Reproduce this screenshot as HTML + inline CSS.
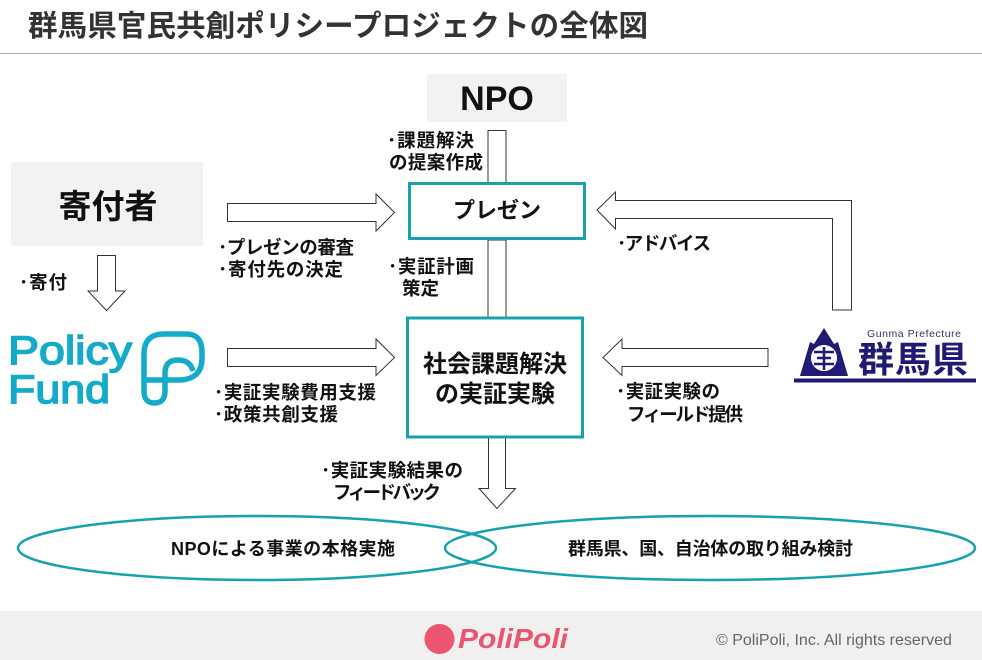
<!DOCTYPE html>
<html lang="ja"><head><meta charset="utf-8"><style>
html,body{margin:0;padding:0;background:#fff}
svg{display:block}
text{font-family:"Liberation Sans","Noto Sans CJK JP",sans-serif;font-weight:700;fill:#111}
</style></head><body>
<svg width="982" height="660" viewBox="0 0 982 660" xmlns="http://www.w3.org/2000/svg">
<text x="28" y="36" font-size="29.500" textLength="620" style="fill:#333">群馬県官民共創ポリシープロジェクトの全体図</text>
<rect x="0" y="53" width="982" height="1" fill="#aaa"/>
<rect x="427" y="74" width="140" height="48" fill="#f2f2f2"/>
<text x="497" y="110" font-size="34" text-anchor="middle">NPO</text>
<rect x="11" y="162" width="192" height="84" fill="#f2f2f2"/>
<text x="108" y="218" font-size="33" text-anchor="middle">寄付者</text>
<g fill="#fff" stroke="#333" stroke-width="1">
<rect x="488" y="130.500" width="18" height="53"/>
<rect x="488" y="240" width="18" height="78"/>
<path d="M227.500 203.500H376V194L394.500 212.500L376 231V221.500H227.500Z"/>
<path d="M227.500 348.500H376V339L394.500 357.500L376 375.500V366.500H227.500Z"/>
<path d="M97.500 255.500H115.500V291H125L106.500 310.500L88 291H97.500Z"/>
<path d="M488.500 438V488.500H479L497 508.500L515.500 488.500H505.500V438Z"/>
<path d="M597 210L615.500 192V200.500H851.500V310H832.500V218.500H615.500V229Z"/>
<path d="M603 357.500L622 339V348.500H768V366.500H622V375.500Z"/>
</g>
<rect x="409.500" y="183.500" width="175" height="55" fill="#fff" stroke="#17a2ad" stroke-width="3"/>
<text x="497" y="218" font-size="22" text-anchor="middle">プレゼン</text>
<rect x="407.500" y="318" width="175" height="119" fill="#fff" stroke="#17a2ad" stroke-width="3"/>
<text x="495" y="372" font-size="24" text-anchor="middle">社会課題解決</text>
<text x="495" y="402" font-size="24" text-anchor="middle">の実証実験</text>
<g font-size="18.500">
<text x="387" y="147" textLength="87">･課題解決</text>
<text x="389" y="169" textLength="94">の提案作成</text>
<text x="218" y="254" textLength="136">･プレゼンの審査</text>
<text x="218" y="276" textLength="125">･寄付先の決定</text>
<text x="19" y="289" textLength="48">･寄付</text>
<text x="388" y="273" textLength="86">･実証計画</text>
<text x="402" y="295" textLength="37">策定</text>
<text x="617" y="250" textLength="94">･アドバイス</text>
<text x="214" y="399" textLength="162">･実証実験費用支援</text>
<text x="214" y="421" textLength="124">･政策共創支援</text>
<text x="616" y="398" textLength="104">･実証実験の</text>
<text x="627" y="421" textLength="116">フィールド提供</text>
<text x="321" y="477" textLength="142">･実証実験結果の</text>
<text x="333" y="499" textLength="108">フィードバック</text>
</g>
<g fill="none" stroke="#17a2ad" stroke-width="2.500">
<ellipse cx="257" cy="548" rx="239" ry="32"/>
<ellipse cx="710" cy="548" rx="265" ry="32"/>
</g>
<text x="171" y="555" font-size="18" textLength="224">NPOによる事業の本格実施</text>
<text x="568" y="555" font-size="18" textLength="285">群馬県、国、自治体の取り組み検討</text>
<!-- Policy Fund logo -->
<text x="8" y="364" font-size="40" textLength="124" lengthAdjust="spacingAndGlyphs" style="fill:#14abcb;font-weight:400;stroke:#14abcb;stroke-width:1.500">Policy</text>
<text x="8" y="403" font-size="40" textLength="102" lengthAdjust="spacingAndGlyphs" style="fill:#14abcb;font-weight:400;stroke:#14abcb;stroke-width:1.500">Fund</text>
<g fill="none" stroke="#14abcb" stroke-width="5.500">
<path d="M144 391V354Q144 334 164 334H186Q202 334 202 352V358Q202 380 178 380H144"/>
<path d="M144 391Q144 403 154.500 403Q165 403 165 391V373Q165 360 178 360Q190 360 193 371"/>
</g>
<!-- Gunma logo -->
<path d="M824 328L834 344L838 342L848 376H800L810 342L814 344Z" fill="#1f1a73"/>
<circle cx="824" cy="358" r="14" fill="#fff" stroke="#1f1a73" stroke-width="2"/>
<path d="M814 352H834M817 358H831M814 364H834M824 347V370" stroke="#1f1a73" stroke-width="2.500" fill="none"/>
<text x="867" y="337" font-size="10.500" textLength="94" style="fill:#33326b;font-weight:400">Gunma Prefecture</text>
<text x="858" y="372" font-size="36" textLength="110" style="fill:#1f1a73;font-weight:700;font-family:'Noto Sans CJK JP',sans-serif">群馬県</text>
<rect x="794" y="378.500" width="182" height="4" fill="#1f1a73"/>
<!-- Footer -->
<rect x="0" y="611" width="982" height="49" fill="#f0f0f0"/>
<ellipse cx="439.500" cy="639" rx="15" ry="15" fill="#ec5570"/>
<text x="458" y="648" font-size="28" textLength="110" lengthAdjust="spacingAndGlyphs" style="fill:#ec5570;font-style:italic;font-weight:700">PoliPoli</text>
<text x="716" y="645" font-size="16" style="fill:#666;font-weight:400">© PoliPoli, Inc. All rights reserved</text>
</svg>
</body></html>
